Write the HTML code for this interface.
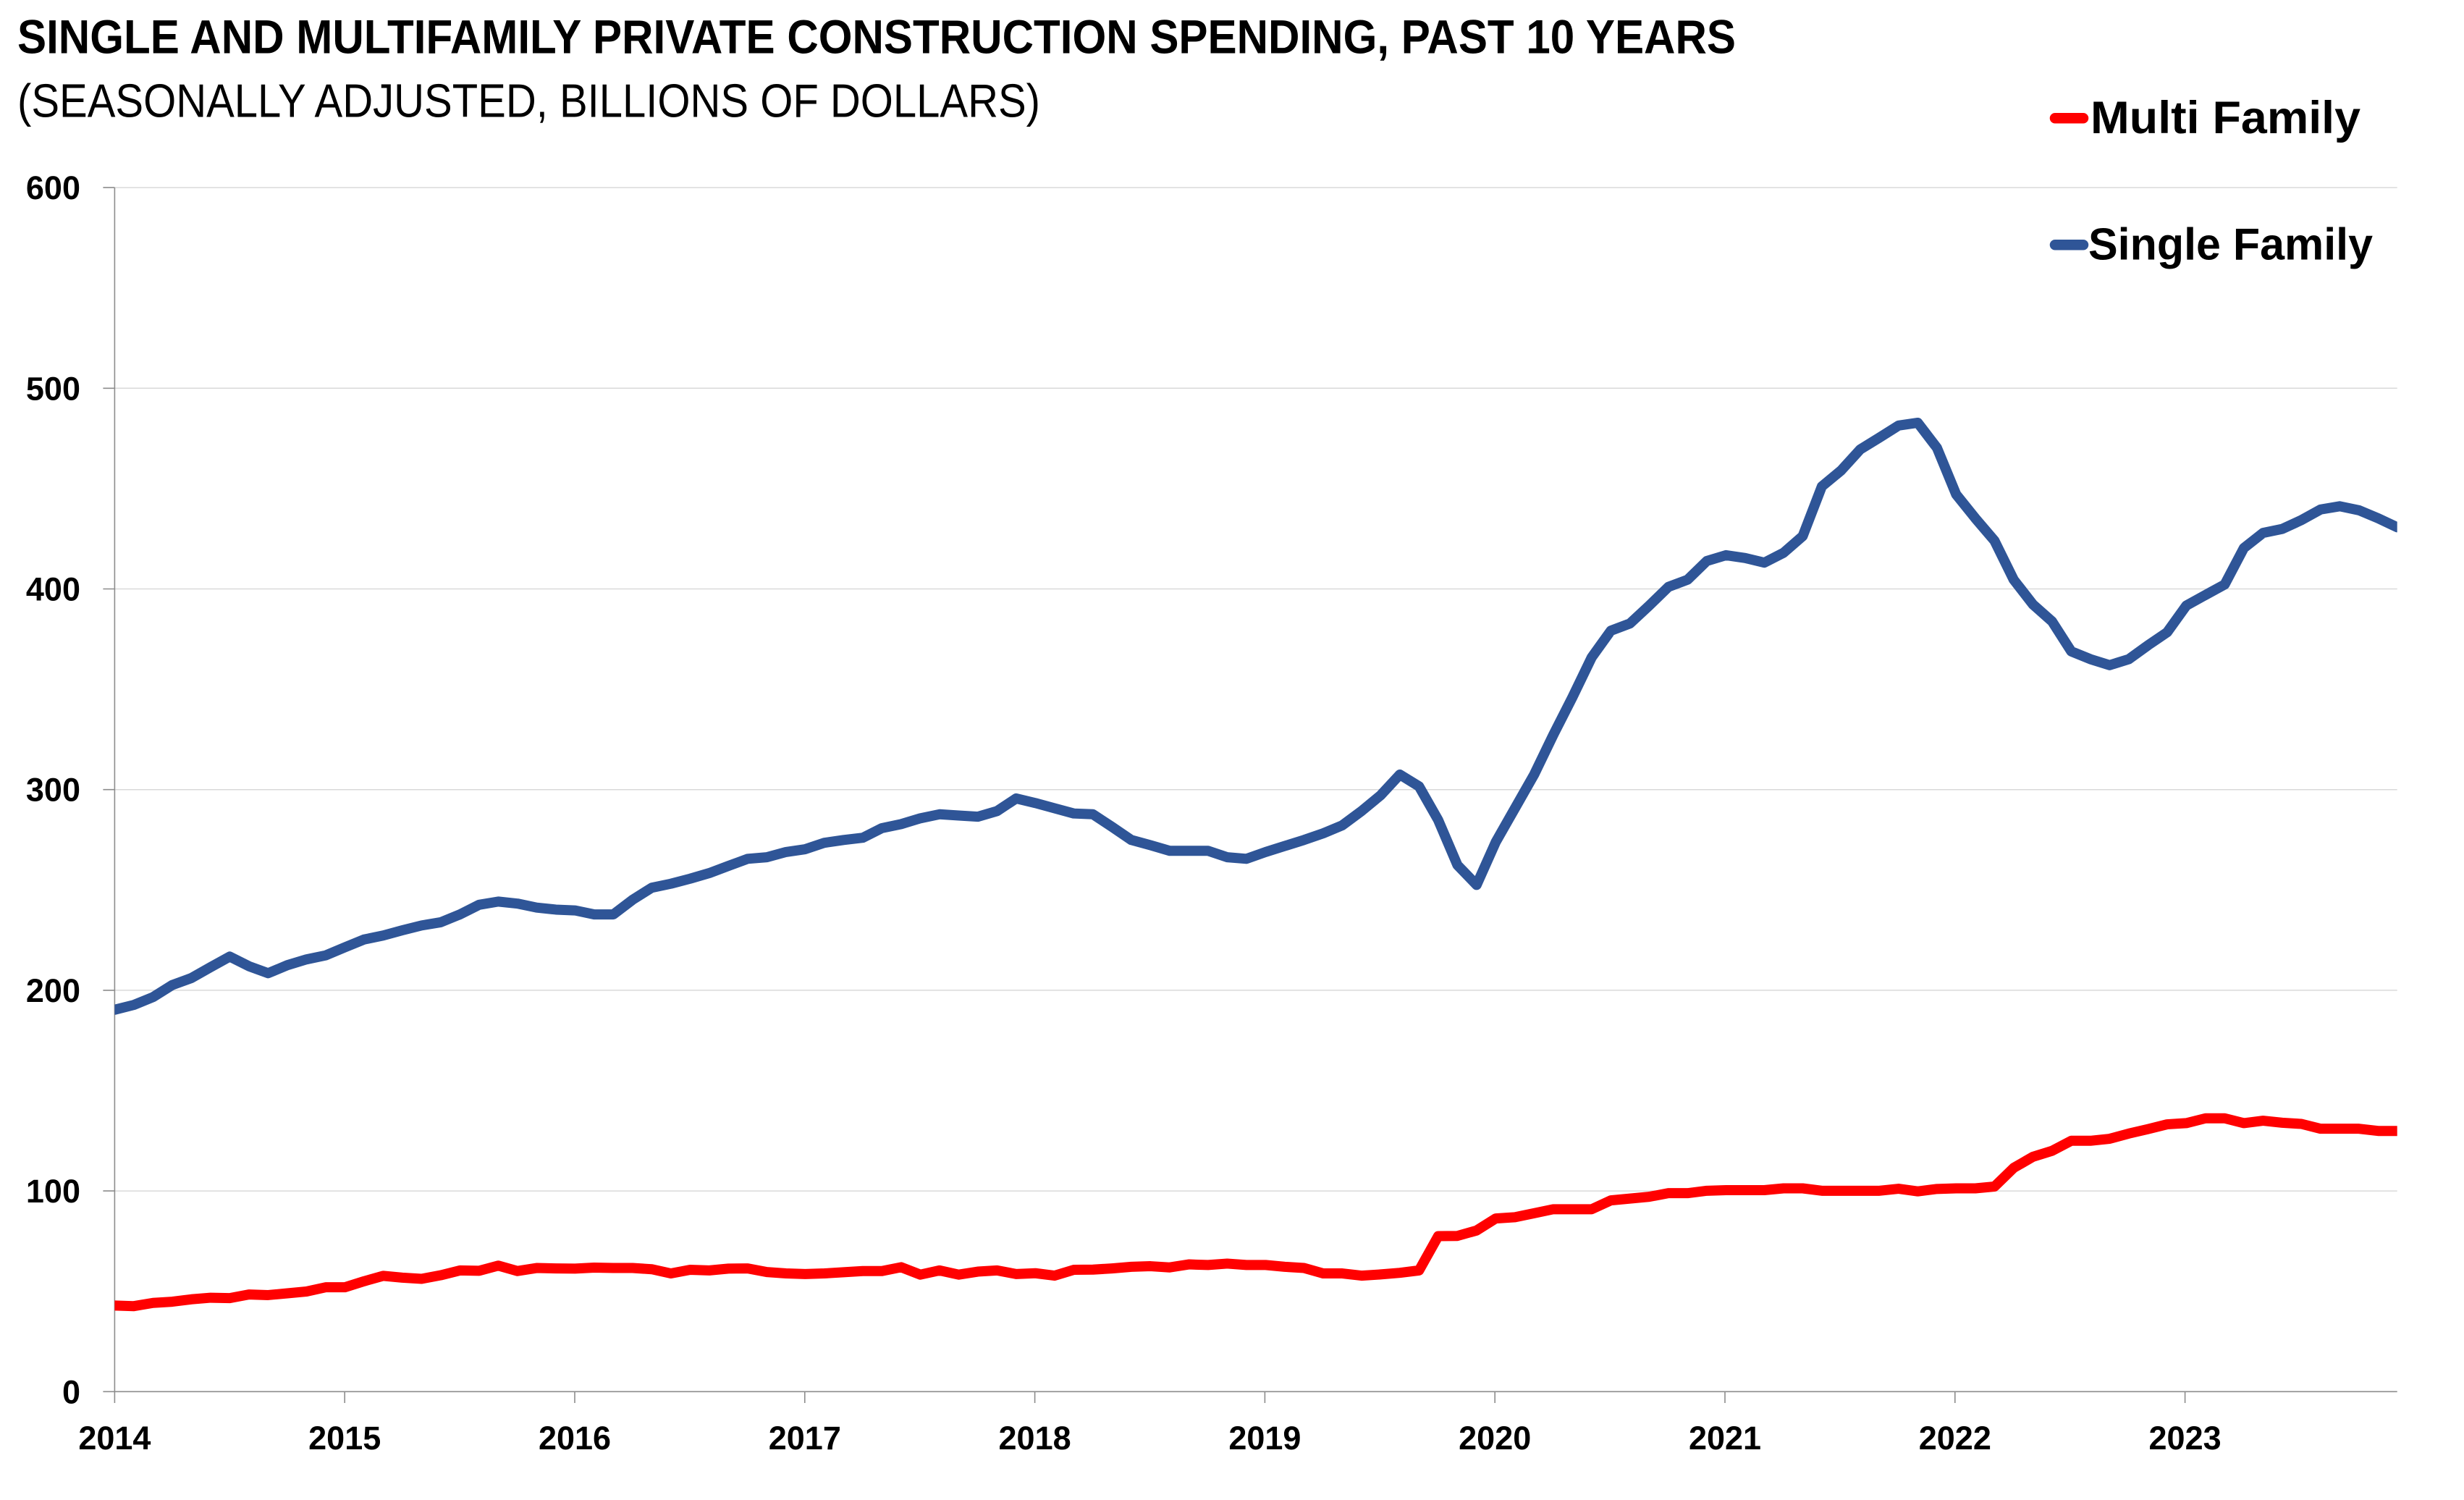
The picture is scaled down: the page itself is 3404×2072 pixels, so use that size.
<!DOCTYPE html>
<html>
<head>
<meta charset="utf-8">
<style>
html,body{margin:0;padding:0;background:#fff;}
svg{display:block;}
text{font-family:"Liberation Sans",Arial,sans-serif;fill:#000;}
</style>
</head>
<body>
<svg width="3404" height="2072" viewBox="0 0 3404 2072" xmlns="http://www.w3.org/2000/svg">
<rect x="0" y="0" width="3404" height="2072" fill="#fff"/>
<defs>
<clipPath id="plot"><rect x="158.4" y="0" width="3153.3" height="2072"/></clipPath>
</defs>

<!-- Title -->
<text x="24" y="73.3" font-size="66" font-weight="bold" textLength="2374" lengthAdjust="spacingAndGlyphs">SINGLE AND MULTIFAMILY PRIVATE CONSTRUCTION SPENDING, PAST 10 YEARS</text>
<text x="24" y="161.7" font-size="65" textLength="1413" lengthAdjust="spacingAndGlyphs">(SEASONALLY ADJUSTED, BILLIONS OF DOLLARS)</text>

<!-- Gridlines -->
<g stroke="#D9D9D9" stroke-width="1.5">
<line x1="158.4" y1="1645.1" x2="3311.7" y2="1645.1"/>
<line x1="158.4" y1="1367.9" x2="3311.7" y2="1367.9"/>
<line x1="158.4" y1="1090.7" x2="3311.7" y2="1090.7"/>
<line x1="158.4" y1="813.5" x2="3311.7" y2="813.5"/>
<line x1="158.4" y1="536.3" x2="3311.7" y2="536.3"/>
<line x1="158.4" y1="259.1" x2="3311.7" y2="259.1"/>
</g>

<!-- Axes -->
<g stroke="#8C8C8C" stroke-width="1.6">
<line x1="158.4" y1="259.1" x2="158.4" y2="1938"/>
<line x1="142.4" y1="1922.3" x2="3311.7" y2="1922.3"/>
<line x1="142.4" y1="1645.1" x2="158.4" y2="1645.1"/>
<line x1="142.4" y1="1367.9" x2="158.4" y2="1367.9"/>
<line x1="142.4" y1="1090.7" x2="158.4" y2="1090.7"/>
<line x1="142.4" y1="813.5" x2="158.4" y2="813.5"/>
<line x1="142.4" y1="536.3" x2="158.4" y2="536.3"/>
<line x1="142.4" y1="259.1" x2="158.4" y2="259.1"/>
<line x1="476.2" y1="1922.3" x2="476.2" y2="1938"/>
<line x1="794" y1="1922.3" x2="794" y2="1938"/>
<line x1="1111.8" y1="1922.3" x2="1111.8" y2="1938"/>
<line x1="1429.6" y1="1922.3" x2="1429.6" y2="1938"/>
<line x1="1747.4" y1="1922.3" x2="1747.4" y2="1938"/>
<line x1="2065.2" y1="1922.3" x2="2065.2" y2="1938"/>
<line x1="2383" y1="1922.3" x2="2383" y2="1938"/>
<line x1="2700.8" y1="1922.3" x2="2700.8" y2="1938"/>
<line x1="3018.6" y1="1922.3" x2="3018.6" y2="1938"/>
</g>

<!-- Y labels -->
<g font-size="45" font-weight="bold" text-anchor="end">
<text x="111" y="1938.3">0</text>
<text x="111" y="1661.1">100</text>
<text x="111" y="1383.9">200</text>
<text x="111" y="1106.7">300</text>
<text x="111" y="829.5">400</text>
<text x="111" y="552.3">500</text>
<text x="111" y="275.1">600</text>
</g>

<!-- X labels -->
<g font-size="45" font-weight="bold" text-anchor="middle">
<text x="158.4" y="2002">2014</text>
<text x="476.2" y="2002">2015</text>
<text x="794" y="2002">2016</text>
<text x="1111.8" y="2002">2017</text>
<text x="1429.6" y="2002">2018</text>
<text x="1747.4" y="2002">2019</text>
<text x="2065.2" y="2002">2020</text>
<text x="2383" y="2002">2021</text>
<text x="2700.8" y="2002">2022</text>
<text x="3018.6" y="2002">2023</text>
</g>

<!-- Series -->
<g clip-path="url(#plot)">
<g transform="translate(158.4,1922.3) scale(26.5,-2.772)">
<polyline fill="none" stroke="#FF0000" stroke-width="14" stroke-linejoin="round" stroke-linecap="round" vector-effect="non-scaling-stroke" points="0,42.9 1,42.6 2,44.2 3,44.8 4,46 5,46.8 6,46.6 7,48.4 8,48.1 9,49 10,49.9 11,52 12,52 13,55 14,57.7 15,56.8 16,56.2 17,58 18,60.4 19,60.2 20,62.8 21,60.1 22,61.6 23,61.4 24,61.3 25,61.8 26,61.6 27,61.6 28,61 29,58.9 30,60.7 31,60.4 32,61.3 33,61.4 34,59.6 35,58.9 36,58.6 37,58.9 38,59.5 39,60.1 40,60.1 41,62 42,58.3 43,60.4 44,58.3 45,59.8 46,60.4 47,58.6 48,59 49,57.8 50,60.7 51,60.8 52,61.4 53,62.2 54,62.5 55,61.9 56,63.4 57,63.1 58,63.8 59,63.1 60,63.1 61,62.2 62,61.6 63,58.9 64,58.9 65,57.8 66,58.4 67,59.2 68,60.4 69,77.5 70,77.6 71,80.3 72,86.3 73,86.9 74,88.9 75,90.9 76,90.9 77,90.9 78,95.3 79,96.2 80,97.1 81,98.9 82,98.9 83,100.1 84,100.4 85,100.4 86,100.4 87,101.3 88,101.3 89,100.1 90,100.1 91,100.1 92,100.1 93,101.1 94,99.8 95,101 96,101.3 97,101.3 98,102.2 99,111.5 100,117 101,120 102,125 103,125 104,126 105,128.6 106,130.8 107,133.2 108,133.8 109,136.2 110,136.2 111,133.8 112,135 113,134 114,133.4 115,131 116,131 117,131 118,129.9 119,129.9"/>
<polyline fill="none" stroke="#2F5597" stroke-width="14" stroke-linejoin="round" stroke-linecap="round" vector-effect="non-scaling-stroke" points="0,190.3 1,192.7 2,196.6 3,202.6 4,206.1 5,211.5 6,216.8 7,212 8,208.5 9,212.5 10,215.4 11,217.4 12,221.4 13,225.3 14,227.3 15,229.9 16,232.3 17,233.9 18,237.8 19,242.6 20,244.2 21,243.2 22,241.2 23,240.2 24,239.8 25,237.8 26,237.8 27,245.1 28,251.1 29,253.1 30,255.6 31,258.4 32,262 33,265.5 34,266.3 35,268.9 36,270.3 37,273.5 38,274.9 39,276 40,280.8 41,282.8 42,285.7 43,287.7 44,287.1 45,286.5 46,289.3 47,295.6 48,293.3 49,290.7 50,288.1 51,287.7 52,281.4 53,274.9 54,272.3 55,269.5 56,269.5 57,269.5 58,266.3 59,265.5 60,268.9 61,271.9 62,274.9 63,278.2 64,282.2 65,289.3 66,297.2 67,307.5 68,301.6 69,284.8 70,262.4 71,252.5 72,273.9 73,290.7 74,307.5 75,327.3 76,346.1 77,365.9 78,379.2 79,382.8 80,391.7 81,401 82,404.6 83,413.9 84,416.8 85,415.4 86,413.1 87,418 88,426.3 89,451.1 90,459 91,469.5 92,475.4 93,481.4 94,482.8 95,470.3 96,447.1 97,435.2 98,424 99,404.6 100,392.3 101,383.8 102,368.9 103,365 104,362 105,365 106,371.9 107,378.4 108,391.7 109,397 110,402.2 111,420.4 112,427.9 113,429.9 114,434.3 115,439.6 116,441.2 117,439.2 118,435.2 119,430.7"/>
</g>
</g>

<!-- Legend -->
<line x1="2839" y1="163.3" x2="2878" y2="163.3" stroke="#FF0000" stroke-width="14.5" stroke-linecap="round"/>
<text x="2888" y="184" font-size="63" font-weight="bold" textLength="373" lengthAdjust="spacingAndGlyphs">Multi Family</text>
<line x1="2839" y1="338.3" x2="2878" y2="338.3" stroke="#2F5597" stroke-width="14.5" stroke-linecap="round"/>
<text x="2885" y="358.3" font-size="62" font-weight="bold" textLength="393" lengthAdjust="spacingAndGlyphs">Single Family</text>
</svg>
</body>
</html>
